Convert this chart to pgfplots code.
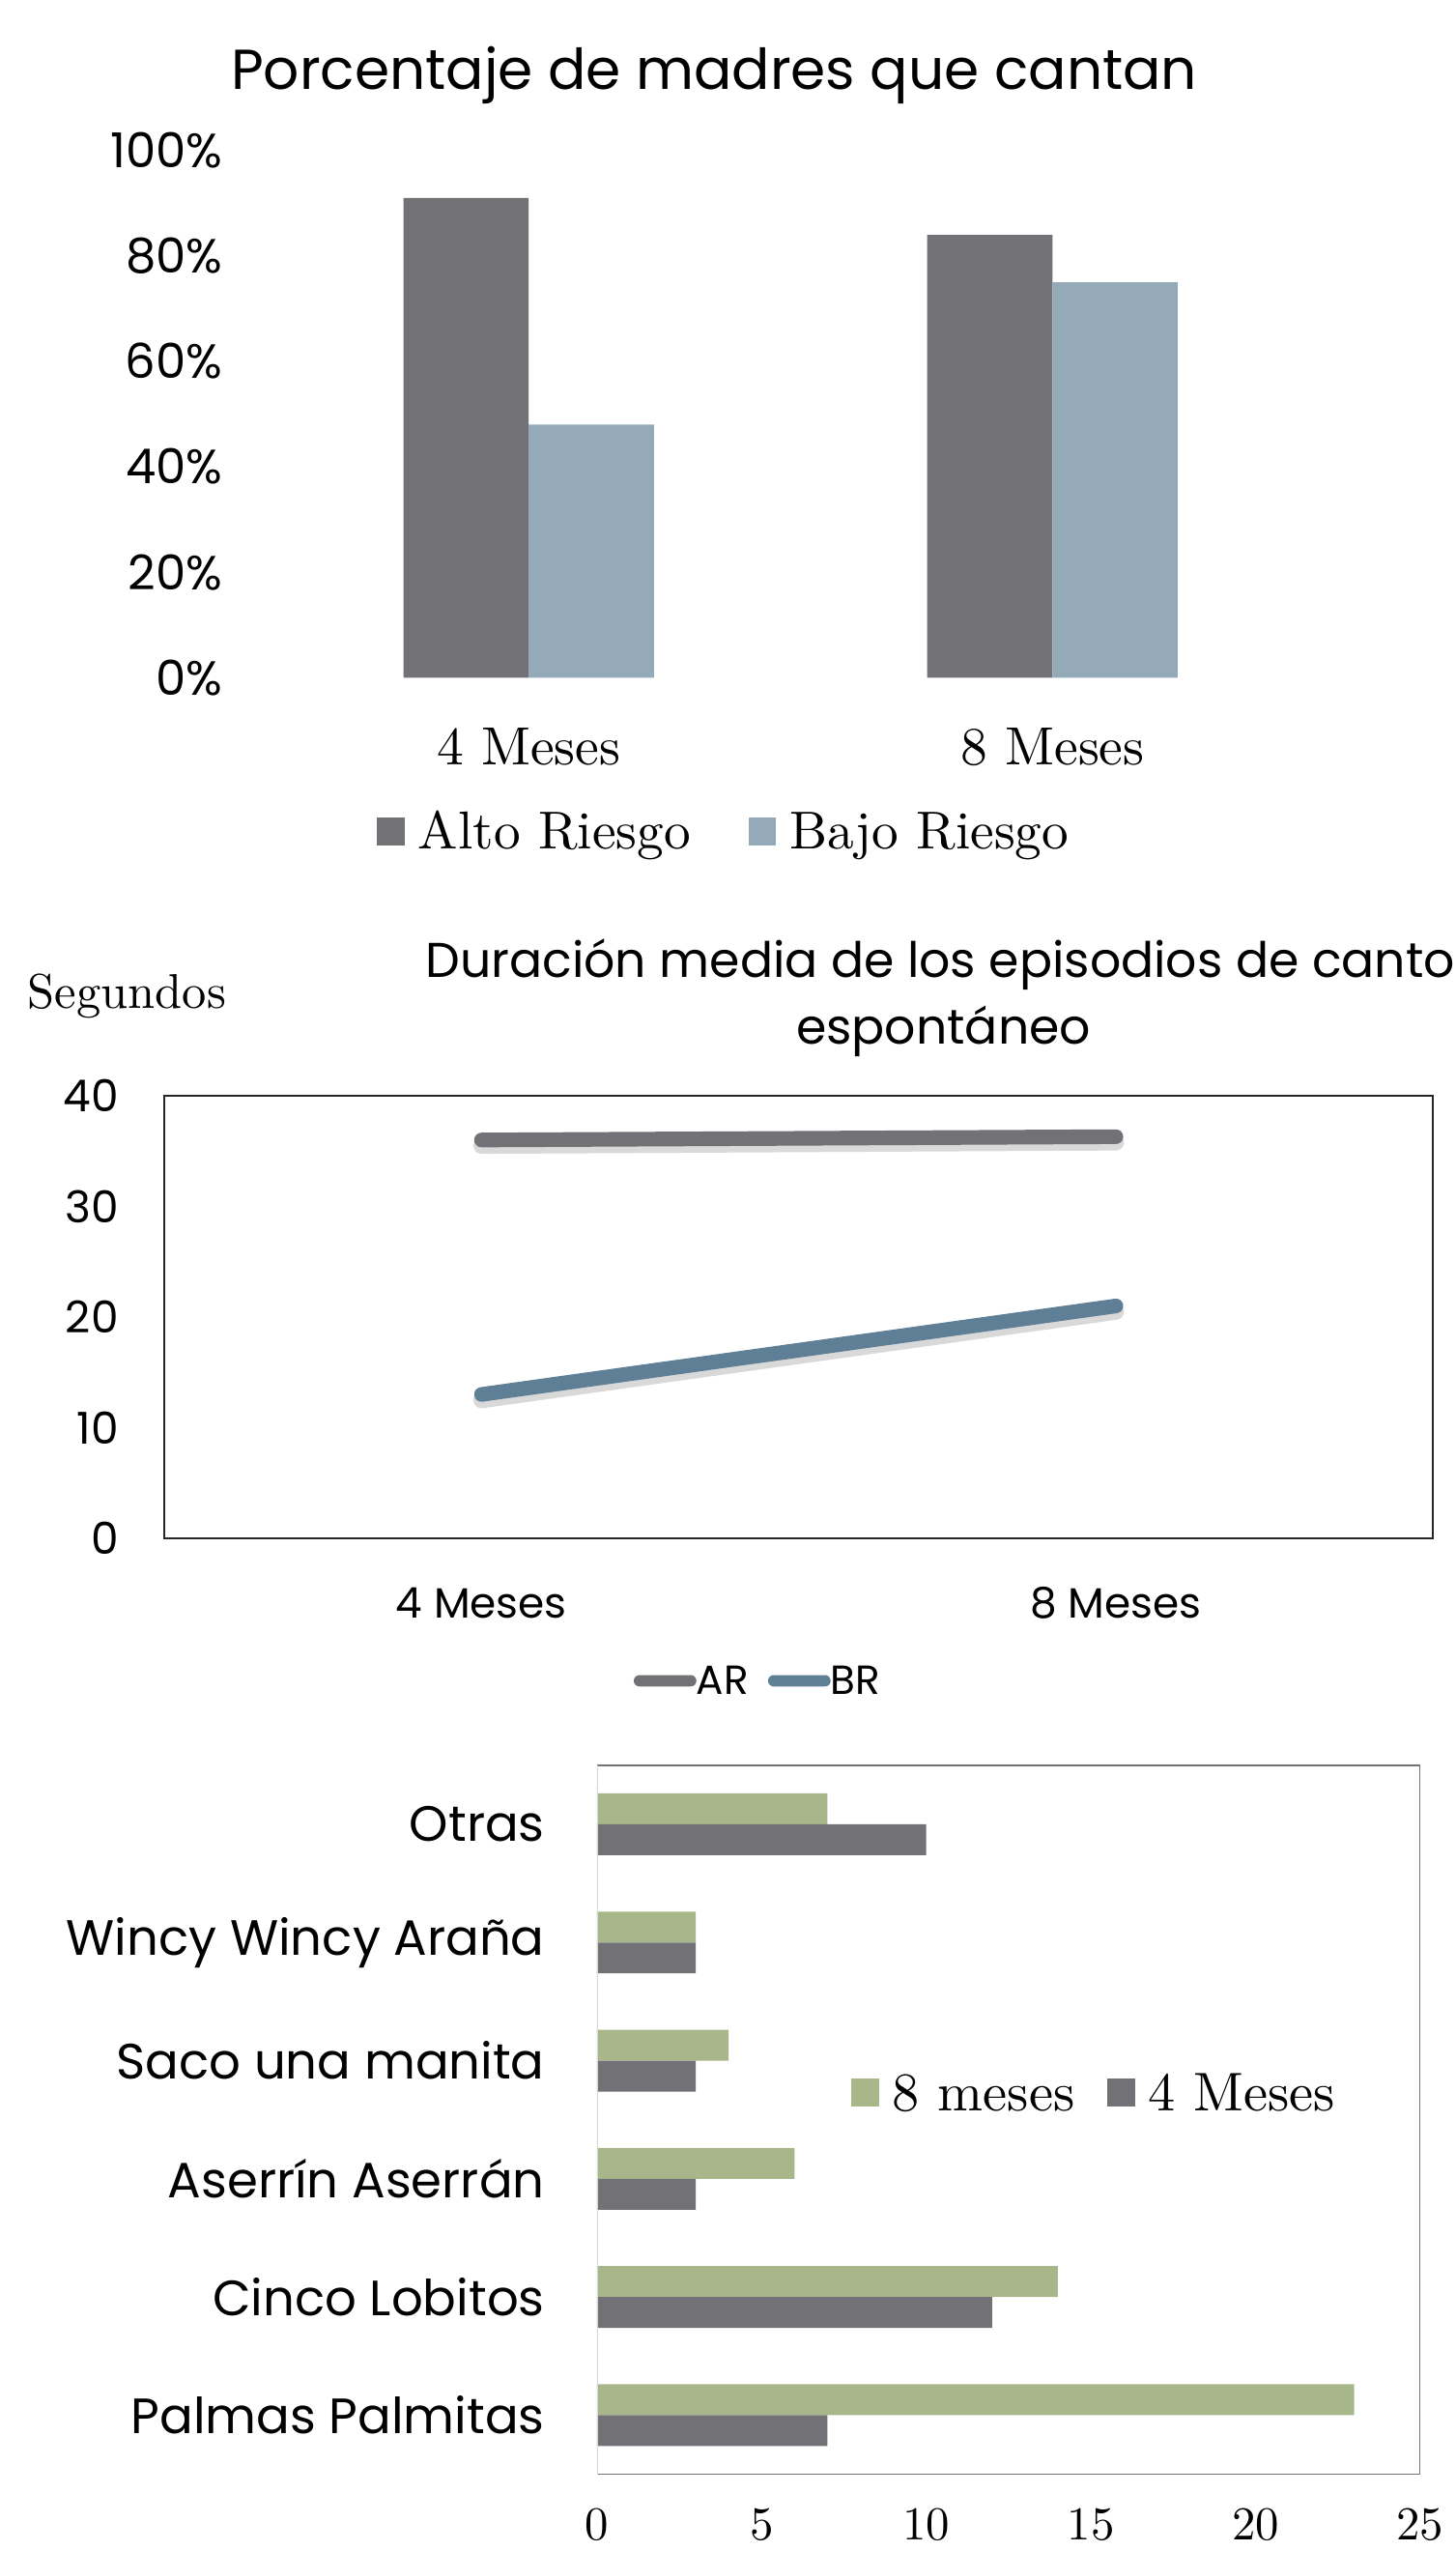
\documentclass[border=0pt]{standalone}
\usepackage{pgfplots}
\pgfplotsset{compat=1.18}
\usepackage{fontspec}
\setmainfont{lmroman10-regular.otf}
\setsansfont{Poppins}
\definecolor{cgray}{HTML}{727176}
\definecolor{cblue}{HTML}{94AAB9}
\definecolor{cgreen}{HTML}{A7B78A}
\definecolor{cline}{HTML}{5F7F96}
\pgfplotsset{
  sqlegend/.style={legend image code/.code={\fill[##1,draw=none] (0pt,2.5pt) rectangle (17pt,19.5pt);}},
  linelegend/.style={legend image code/.code={\fill[##1,draw=none,rounded corners=3.5pt] (0pt,5pt) rectangle (38.5pt,12pt);}},
}
\begin{document}
\begin{tikzpicture}
\useasboundingbox (0pt,0pt) rectangle (895pt,-1568pt);

% ---------------- Chart 1 ----------------
\node[font=\sffamily\fontsize{34.6}{34.6}\selectfont, anchor=base, inner sep=0pt] at (439pt,-55pt) {Porcentaje de madres que cantan};
\begin{axis}[
  at={(164pt,-416.5pt)}, anchor=south west,
  scale only axis, width=644pt, height=324pt,
  xmin=-0.5, xmax=1.5, ymin=0, ymax=100,
  ybar=0pt, bar width=77pt,
  axis line style={draw=none},
  major tick length=0pt,
  xtick={0,1}, xticklabels={4 Meses, 8 Meses},
  ytick={0,20,...,100},
  yticklabel={\pgfmathprintnumber{\tick}\%},
  /pgf/number format/assume math mode=true,
  yticklabel style={font=\sffamily\fontsize{29.5}{29.5}\selectfont, inner sep=0pt, anchor=east, xshift=-27pt},
  xticklabel style={font=\fontsize{33}{33}\selectfont, inner sep=0pt, anchor=north, yshift=-31pt},
  legend columns=2,
  legend style={draw=none, fill=none, inner sep=0pt, outer sep=0pt,
    at={(axis description cs:0.105,-0.2917)}, anchor=west,
    font=\fontsize{32.8}{32.8}\selectfont,
    nodes={inner sep=0pt}, cells={anchor=base west},
    /tikz/every odd column/.style={column sep=8.5pt},
    /tikz/every even column/.style={column sep=35.6pt}},
]
\addplot[fill=cgray, draw=none, sqlegend] coordinates {(0,91) (1,84)};
\addplot[fill=cblue, draw=none, sqlegend] coordinates {(0,48) (1,75)};
\legend{Alto Riesgo, Bajo Riesgo}
\end{axis}

% ---------------- Chart 2 ----------------
\node[font=\fontsize{30}{30}\selectfont, anchor=base, inner sep=0pt] at (78pt,-620pt) {Segundos};
\node[font=\sffamily\fontsize{30}{30}\selectfont, anchor=base, inner sep=0pt] at (578pt,-601pt) {Duración media de los episodios de canto};
\node[font=\sffamily\fontsize{30}{30}\selectfont, anchor=base, inner sep=0pt] at (580pt,-641.5pt) {espontáneo};
\begin{axis}[
  at={(101pt,-945.5pt)}, anchor=south west,
  scale only axis, width=780pt, height=272pt,
  xmin=-0.5, xmax=1.5, ymin=0, ymax=40,
  axis line style={draw=black!85, line width=1.2pt},
  major tick length=0pt,
  xtick={0,1}, xticklabels={4 Meses, 8 Meses},
  ytick={0,10,...,40},
  /pgf/number format/assume math mode=true,
  yticklabel style={font=\sffamily\fontsize{27}{27}\selectfont, inner sep=0pt, anchor=east, xshift=-28pt},
  xticklabel style={font=\sffamily\fontsize{26}{26}\selectfont, inner sep=0pt, anchor=north, yshift=-30pt},
  legend columns=2,
  legend style={draw=none, fill=none, inner sep=0pt, outer sep=0pt,
    at={(axis description cs:0.37,-0.324)}, anchor=west,
    font=\sffamily\fontsize{25}{25}\selectfont,
    nodes={inner sep=0pt}, cells={anchor=base west},
    /tikz/every odd column/.style={column sep=0pt},
    /tikz/every even column/.style={column sep=12pt}},
]
\addplot[color=black!15, line width=10pt, line cap=round, yshift=-3.5pt, forget plot] coordinates {(0,36.0) (1,36.3)};
\addplot[color=black!15, line width=10pt, line cap=round, yshift=-3.5pt, forget plot] coordinates {(0,13.0) (1,21.0)};
\addplot[color=cgray, line width=9pt, line cap=round, mark=none, linelegend] coordinates {(0,36.0) (1,36.3)};
\addplot[color=cline, line width=9pt, line cap=round, mark=none, linelegend] coordinates {(0,13.0) (1,21.0)};
\legend{AR, BR}
\draw[line width=5.4pt, black] ([yshift=-3.8pt]rel axis cs:0,0) -- ([yshift=-3.8pt]rel axis cs:1,0);
\end{axis}

% ---------------- Chart 3 ----------------
\begin{axis}[
  at={(367pt,-1520.8pt)}, anchor=south west,
  scale only axis, width=506pt, height=435.8pt,
  xmin=0, xmax=25, ymin=-0.5, ymax=5.5,
  xbar=0pt, bar width=19pt,
  axis line style={draw=none},
  major tick length=0pt,
  ytick={0,...,5},
  yticklabels={Palmas Palmitas, Cinco Lobitos, Aserrín Aserrán, Saco una manita, Wincy Wincy Araña, Otras},
  xtick={0,5,...,25},
  /pgf/number format/assume math mode=true,
  xticklabel style={font=\fontsize{29}{29}\selectfont, inner sep=0pt, anchor=north, yshift=-20.8pt},
  yticklabel style={font=\sffamily\fontsize{30.5}{30.5}\selectfont, inner sep=0pt, anchor=east, xshift=-32pt},
  legend columns=2,
  legend style={draw=none, fill=none, inner sep=0pt, outer sep=0pt,
    at={(axis description cs:0.309,0.5376)}, anchor=west,
    font=\fontsize{33.5}{33.5}\selectfont,
    nodes={inner sep=0pt}, cells={anchor=base west},
    /tikz/every odd column/.style={column sep=8.4pt},
    /tikz/every even column/.style={column sep=20pt}},
]
\addplot[fill=cgreen, draw=none, bar shift=9.5pt, sqlegend] coordinates {(23,0) (14,1) (6,2) (4,3) (3,4) (7,5)};
\addplot[fill=cgray, draw=none, bar shift=-9.5pt, sqlegend] coordinates {(7,0) (12,1) (3,2) (3,3) (3,4) (10,5)};
\legend{8 meses, 4 Meses}
\draw[color=black!55, line width=1.2pt] (rel axis cs:0,1) -- (rel axis cs:1,1) -- (rel axis cs:1,0) -- (rel axis cs:0,0);
\draw[color=black!15, line width=1.5pt] (rel axis cs:0,0) -- (rel axis cs:0,1);
\end{axis}
\end{tikzpicture}
\end{document}
